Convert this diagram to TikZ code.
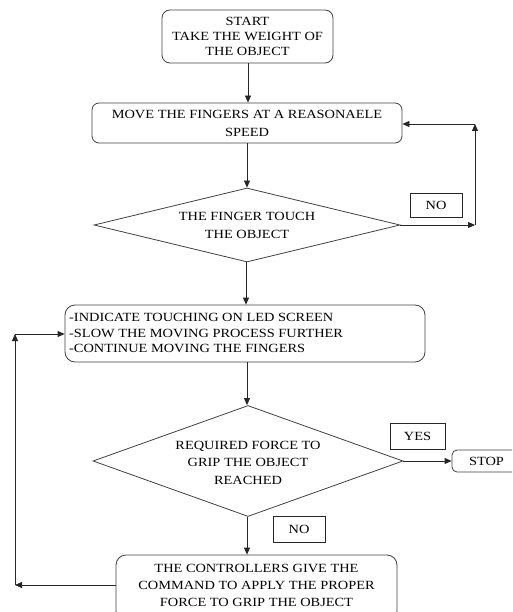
\documentclass[tikz,border=0pt]{standalone}
\usepackage{fontspec}
\setmainfont[FakeStretch=1.15]{Liberation Serif}
\usetikzlibrary{shapes.geometric,arrows.meta}
\begin{document}
\begin{tikzpicture}[x=1pt,y=-1pt,
  every node/.style={font=\fontsize{12.5}{15}\selectfont, text=black},
  procbox/.style={draw=black!75, line width=0.8pt, rounded corners=8pt, inner sep=0pt, align=center},
  decbox/.style={draw=black!75, line width=0.8pt, diamond, inner sep=0pt},
  tagbox/.style={draw=black!85, line width=0.8pt, inner sep=0pt},
  txt/.style={align=center, inner sep=0pt},
  arr/.style={draw=black!85, line width=0.8pt, -{Triangle[length=7pt,width=6pt]}},
  ln/.style={draw=black!85, line width=0.8pt}]
\useasboundingbox (0,0) rectangle (512,612);
\clip (0,0) rectangle (512,612);

% nodes
\node[procbox, minimum width=171pt, minimum height=53pt] (start) at (247.5,36.5)
  {START\\TAKE THE WEIGHT OF\\THE OBJECT};
\node[procbox, rounded corners=7pt, minimum width=310pt, minimum height=40pt, font=\fontsize{12.5}{18}\selectfont] (move) at (247,123)
  {MOVE THE FINGERS AT A REASONAELE\\SPEED};
\node[decbox, minimum width=306pt, minimum height=74pt] (d1) at (247,225) {};
\node[txt, font=\fontsize{12.5}{18}\selectfont] (d1t) at (247,225) {THE FINGER TOUCH\\THE OBJECT};
\node[tagbox, minimum width=52pt, minimum height=24pt] (no1) at (436,205) {NO};

\node[procbox, rounded corners=10pt, minimum width=360pt, minimum height=57pt] (box3) at (245,333.5) {};
\node[txt, align=left, anchor=west, font=\fontsize{12.5}{15.5}\selectfont] (box3t) at (69,333)
  {-INDICATE TOUCHING ON LED SCREEN\\-SLOW THE MOVING PROCESS FURTHER\\-CONTINUE MOVING THE FINGERS};

\node[decbox, minimum width=310pt, minimum height=111pt] (d2) at (248,461) {};
\node[txt, font=\fontsize{12.5}{17.5}\selectfont] (d2t) at (248,462.5) {REQUIRED FORCE TO\\GRIP THE OBJECT\\REACHED};
\node[tagbox, minimum width=55pt, minimum height=26pt] (yes) at (417.5,436) {YES};
\node[procbox, rounded corners=5pt, minimum width=69pt, minimum height=22pt] (stop) at (486.5,461) {STOP};
\node[tagbox, minimum width=52pt, minimum height=26pt] (no2) at (299,529) {NO};

\node[procbox, rounded corners=10pt, minimum width=281pt, minimum height=66pt] (box5) at (256.5,588) {};
\node[txt, font=\fontsize{12.5}{17}\selectfont] (box5t) at (256.5,585)
  {THE CONTROLLERS GIVE THE\\COMMAND TO APPLY THE PROPER\\FORCE TO GRIP THE OBJECT};

% loop coordinates
\coordinate (r1) at (475,225);
\coordinate (r2) at (475,124);
\coordinate (l1) at (15,585);
\coordinate (l2) at (15,334);

% connectors
\draw[arr] (start.south -| 248,0) -- (move.north -| 248,0);
\draw[arr] (move.south) -- (d1.north);
\draw[arr] (d1.south -| 246,0) -- (box3.north -| 246,0);
\draw[arr] (box3.south -| 247,0) -- (d2.north -| 247,0);
\draw[arr] (d2.south -| 247,0) -- (box5.north -| 247,0);
\draw[arr] (d2.east) -- (stop.west);

\draw[arr] (d1.east) -- (r1);
\draw[arr] (r1) -- (r2);
\draw[arr] (r2) -- (move.east |- r2);

\draw[arr] (box5.west |- l1) -- (l1);
\draw[arr] (l1) -- (l2);
\draw[arr] (l2) -- (box3.west |- l2);
\end{tikzpicture}
\end{document}
